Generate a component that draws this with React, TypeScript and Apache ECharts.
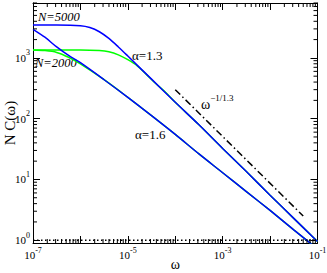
import React, { useEffect, useRef } from 'react';
import * as echarts from 'echarts';

// ---- data ----
const omegaA13 = [1e-7, 3.16e-7, 1e-6, 1.58e-6, 2.51e-6, 3.98e-6, 6.31e-6, 1e-5, 3.16e-5, 1e-4, 3.16e-4, 1e-3, 3.16e-3, 1e-2, 3.16e-2, 1e-1];
const cN5000A13 = [3467, 3467, 3388, 3162, 2692, 2089, 1514, 1072, 447, 186, 79.4, 32.4, 13.5, 5.5, 2.29, 0.955];
const omegaG13 = [1e-7, 1e-6, 2.51e-6, 3.98e-6, 6.31e-6, 1e-5, 1.58e-5, 2.51e-5, 3.98e-5, 6.31e-5, 1e-4, 3.16e-4, 1e-3, 3.16e-3, 1e-2, 3.16e-2, 1e-1];
const cN2000A13 = [1349, 1349, 1318, 1259, 1122, 933, 741, 525, 372, 269, 186, 79.4, 32.4, 13.5, 5.5, 2.29, 0.955];
const omegaA16 = [1e-7, 1.78e-7, 3.16e-7, 5.62e-7, 1e-6, 3.16e-6, 1e-5, 3.16e-5, 1e-4, 3.16e-4, 1e-3, 3.16e-3, 1e-2, 3.16e-2, 1e-1];
const cN5000A16 = [2951, 2188, 1514, 1096, 832, 437, 224, 112, 55, 26.3, 12.9, 6.31, 3.09, 1.48, 0.72];
const cN2000A16 = [1349, 1318, 1230, 1023, 794, 437, 224, 112, 55, 26.3, 12.9, 6.31, 3.09, 1.48, 0.72];
const guideOmega = [1e-4, 5e-2];
const guideC = [300, 2.5];
const unitOmega = [1e-7, 1e-1];
const unitC = [1, 1];
const xLabelExponents = [-7, -5, -3, -1];
const yLabelExponents = [0, 1, 2, 3];
const xRange = [1e-7, 1e-1];
const yRange = [0.9, 8000];

const FONT = '"Liberation Serif", "DejaVu Serif", serif';
const BLUE = '#0000ff';
const GREEN = '#00ff00';

const pairs = (xs: number[], ys: number[]) => xs.map((x, i) => [x, ys[i]]);

const xMinor: number[] = [];
for (let e = -7; e < -1; e++) for (let m = 2; m <= 9; m++) xMinor.push(m * Math.pow(10, e));
const yMinor: number[] = [];
for (let e = 0; e <= 3; e++) for (let m = 2; m <= 9; m++) { const v = m * Math.pow(10, e); if (v <= yRange[1]) yMinor.push(v); }

const expOf = (v: number) => {
  const l = Math.log10(v);
  const r = Math.round(l);
  return Math.abs(l - r) < 1e-6 ? r : null;
};

const supRich = {
  b: { fontSize: 11, lineHeight: 18, fontFamily: FONT, color: '#000' },
  s: { fontSize: 8, lineHeight: 8, fontFamily: FONT, color: '#000', verticalAlign: 'top' },
};

const tickLine = (x1: number, y1: number, x2: number, y2: number) => ({
  type: 'line', shape: { x1, y1, x2, y2 }, style: { stroke: '#000', lineWidth: 1 },
});

const frameAxis = {
  axisLine: { show: true, lineStyle: { color: '#000', width: 1 } },
  axisTick: { show: true, inside: true, length: 7, lineStyle: { color: '#000', width: 1 } },
  splitLine: { show: false },
};

const option: any = {
  animation: false,
  backgroundColor: '#fff',
  grid: { left: 33, right: 9.5, top: 3, bottom: 30, outerBoundsMode: 'none' },
  xAxis: [
    {
      type: 'log', logBase: 10, min: xRange[0], max: xRange[1], position: 'bottom',
      ...frameAxis,
      name: 'ω', nameLocation: 'middle', nameGap: 14, nameMoveOverlap: false,
      nameTextStyle: { fontFamily: FONT, fontSize: 14, color: '#000' },
      axisLabel: {
        margin: 3,
        formatter: (v: number) => {
          const e = expOf(v);
          return e !== null && xLabelExponents.includes(e) ? `{b|10}{s|${e}}` : '';
        },
        rich: supRich,
      },
    },
    {
      type: 'log', logBase: 10, min: xRange[0], max: xRange[1], position: 'top',
      ...frameAxis, axisLabel: { show: false },
    },
  ],
  yAxis: [
    {
      type: 'log', logBase: 10, min: yRange[0], max: yRange[1], position: 'left',
      ...frameAxis,
      name: 'N C(ω)', nameLocation: 'middle', nameGap: 16, nameRotate: 90, nameMoveOverlap: false,
      nameTextStyle: { fontFamily: FONT, fontSize: 15, color: '#000' },
      axisLabel: {
        margin: 3,
        formatter: (v: number) => {
          const e = expOf(v);
          return e !== null && yLabelExponents.includes(e) ? `{b|10}{s|${e}}` : '';
        },
        rich: supRich,
      },
    },
    {
      type: 'log', logBase: 10, min: yRange[0], max: yRange[1], position: 'right',
      ...frameAxis, axisLabel: { show: false },
    },
  ],
  series: [
    {
      type: 'line', data: pairs(unitOmega, unitC), symbol: 'none',
      lineStyle: { color: '#000', width: 1.5, type: [1.5, 2.5] }, z: 2,
    },
    {
      type: 'line', data: pairs(omegaG13, cN2000A13), symbol: 'none', smooth: 0.3,
      lineStyle: { color: GREEN, width: 1.5 }, z: 3,
    },
    {
      type: 'line', data: pairs(omegaA16, cN2000A16), symbol: 'none', smooth: 0.3,
      lineStyle: { color: GREEN, width: 1.5 }, z: 3,
    },
    {
      type: 'line', data: pairs(omegaA13, cN5000A13), symbol: 'none', smooth: 0.3,
      lineStyle: { color: BLUE, width: 1.5 }, z: 4,
    },
    {
      type: 'line', data: pairs(omegaA16, cN5000A16), symbol: 'none', smooth: 0.3,
      lineStyle: { color: BLUE, width: 1.5 }, z: 4,
    },
    {
      type: 'line', data: pairs(guideOmega, guideC), symbol: 'none',
      lineStyle: { color: '#000', width: 1.5, type: [7, 3, 1.5, 3] }, z: 4,
    },
    {
      type: 'custom', silent: true, clip: false, z: 6,
      data: xMinor.map((v) => [v, 10]),
      renderItem: (params: any, api: any) => {
        const p = api.coord([api.value(0), api.value(1)]);
        const cs = params.coordSys;
        const bottom = cs.y + cs.height;
        return {
          type: 'group',
          children: [tickLine(p[0], bottom, p[0], bottom - 4), tickLine(p[0], cs.y, p[0], cs.y + 4)],
        };
      },
    },
    {
      type: 'custom', silent: true, clip: false, z: 6,
      data: yMinor.map((v) => [1e-4, v]),
      renderItem: (params: any, api: any) => {
        const p = api.coord([api.value(0), api.value(1)]);
        const cs = params.coordSys;
        const right = cs.x + cs.width;
        return {
          type: 'group',
          children: [tickLine(cs.x, p[1], cs.x + 4, p[1]), tickLine(right, p[1], right - 4, p[1])],
        };
      },
    },
  ],
  graphic: [
    { type: 'text', x: 38, y: 16.5, style: { text: 'N=5000', fontFamily: FONT, fontSize: 12.5, fontStyle: 'italic', fill: '#000', align: 'left', verticalAlign: 'middle' } },
    { type: 'text', x: 35, y: 63, style: { text: 'N=2000', fontFamily: FONT, fontSize: 12.5, fontStyle: 'italic', fill: '#000', align: 'left', verticalAlign: 'middle' } },
    { type: 'text', x: 132, y: 55, style: { text: 'α=1.3', fontFamily: FONT, fontSize: 13, fill: '#000', align: 'left', verticalAlign: 'middle' } },
    { type: 'text', x: 135, y: 134, style: { text: 'α=1.6', fontFamily: FONT, fontSize: 13, fill: '#000', align: 'left', verticalAlign: 'middle' } },
    {
      type: 'text', x: 201, y: 104,
      style: {
        text: '{w|ω}{s|−1/1.3}', align: 'left', verticalAlign: 'middle',
        rich: {
          w: { fontFamily: FONT, fontSize: 14, lineHeight: 22, fill: '#000' },
          s: { fontFamily: FONT, fontSize: 9, lineHeight: 9, fill: '#000', verticalAlign: 'top' },
        },
      },
    },
  ],
};

export default function App() {
  const ref = useRef<HTMLDivElement>(null);
  useEffect(() => {
    const chart = echarts.init(ref.current!, null, { renderer: 'svg' });
    chart.setOption(option);
    return () => chart.dispose();
  }, []);
  return (
    <div
      ref={ref}
      style={{ position: 'absolute', left: 0, top: 0, width: 327, height: 273, background: '#fff' }}
    />
  );
}
